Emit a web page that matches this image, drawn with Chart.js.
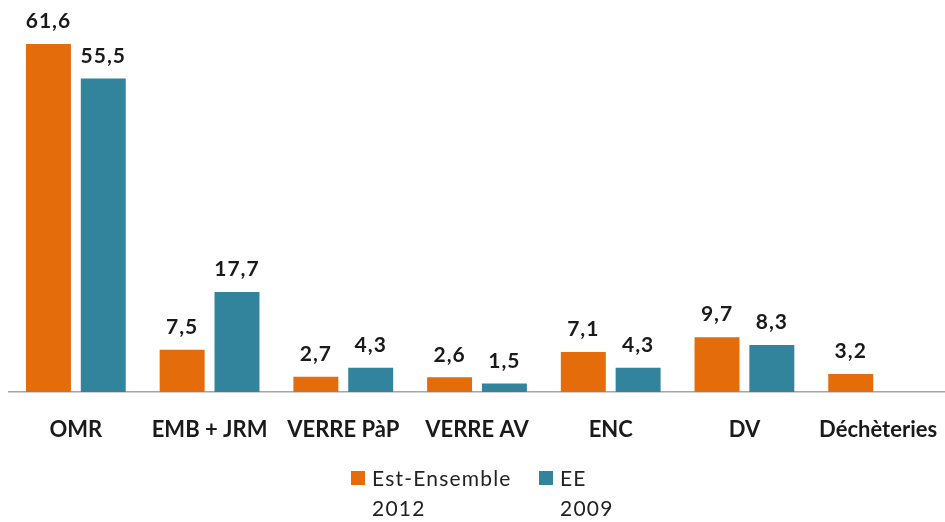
<!DOCTYPE html>
<html>
<head>
<meta charset="utf-8">
<script src="https://cdn.jsdelivr.net/npm/chart.js@4/dist/chart.umd.min.js"></script>
<style>
  html, body { margin: 0; padding: 0; background: #fff; }
  #wrap { position: relative; width: 945px; height: 522px; }
  #legende { position: absolute; left: 0; top: 463px; font-family: Lato, "Open Sans", sans-serif; font-size: 21px; letter-spacing: 1.2px; color: #222; }
  .item { position: absolute; white-space: nowrap; line-height: 30px; }
  .carre { position: absolute; width: 14px; height: 14px; top: 8px; }
  .txt { position: absolute; left: 21px; top: 0; }
</style>
</head>
<body>
<div id="wrap">
  <canvas id="graphique" width="945" height="522"></canvas>
  <div id="legende"></div>
</div>
<script>
// Catégories de collecte
const categories = ['OMR', 'EMB + JRM', 'VERRE PàP', 'VERRE AV', 'ENC', 'DV', 'Déchèteries'];

// Séries (kg/hab)
const serie2012 = [61.6, 7.5, 2.7, 2.6, 7.1, 9.7, 3.2];
const serie2009 = [55.5, 17.7, 4.3, 1.5, 4.3, 8.3, null];

// Libellés de légende (sur deux lignes)
const legende2012 = ['Est-Ensemble', '2012'];
const legende2009 = ['EE', '2009'];

const couleur2012 = '#E46C0A';
const couleur2009 = '#31849B';

// Étiquettes de valeurs au-dessus des barres
const etiquettes = {
  id: 'etiquettes',
  afterDatasetsDraw(chart) {
    const ctx = chart.ctx;
    ctx.save();
    ctx.font = 'bold 21px Lato, "Open Sans", sans-serif';
    ctx.letterSpacing = '1px';
    ctx.fillStyle = '#1a1a1a';
    ctx.textAlign = 'center';
    ctx.textBaseline = 'bottom';
    chart.data.datasets.forEach((ds, i) => {
      chart.getDatasetMeta(i).data.forEach((bar, j) => {
        const v = ds.data[j];
        if (v === null || v === undefined) return;
        ctx.fillText(v.toFixed(1).replace('.', ','), bar.x, bar.y - 12);
      });
    });
    ctx.restore();
  }
};

new Chart(document.getElementById('graphique'), {
  type: 'bar',
  data: {
    labels: categories,
    datasets: [
      { label: legende2012.join(' '), data: serie2012, backgroundColor: couleur2012 },
      { label: legende2009.join(' '), data: serie2009, backgroundColor: couleur2009 }
    ]
  },
  options: {
    responsive: false,
    animation: false,
    layout: { padding: { left: 9, right: 0, top: 0, bottom: 0 } },
    datasets: { bar: { categoryPercentage: 0.82, barPercentage: 0.82 } },
    plugins: { legend: { display: false }, tooltip: { enabled: false } },
    scales: {
      x: {
        grid: { display: false, drawTicks: false },
        border: { display: true, color: '#a6a6a6', width: 1.5 },
        ticks: {
          padding: 25,
          color: '#1a1a1a',
          font: { family: 'Lato, "Open Sans", sans-serif', size: 22, weight: 'bold' },
          maxRotation: 0,
          autoSkip: false
        },
        afterFit: s => {
          s.height = 130;
          s.paddingLeft = 0;
          s.paddingRight = 0;
        }
      },
      y: { display: false, min: 0, max: 69.4 }
    }
  },
  plugins: [etiquettes]
});

// Légende HTML (libellés sur deux lignes)
const legendeDiv = document.getElementById('legende');
[[legende2012, couleur2012, 351], [legende2009, couleur2009, 539]].forEach(([lignes, coul, x]) => {
  const item = document.createElement('div');
  item.className = 'item';
  item.style.left = x + 'px';
  item.innerHTML = '<span class="carre" style="background:' + coul + '"></span>' +
    '<span class="txt">' + lignes.join('<br>') + '</span>';
  legendeDiv.appendChild(item);
});
</script>
</body>
</html>
